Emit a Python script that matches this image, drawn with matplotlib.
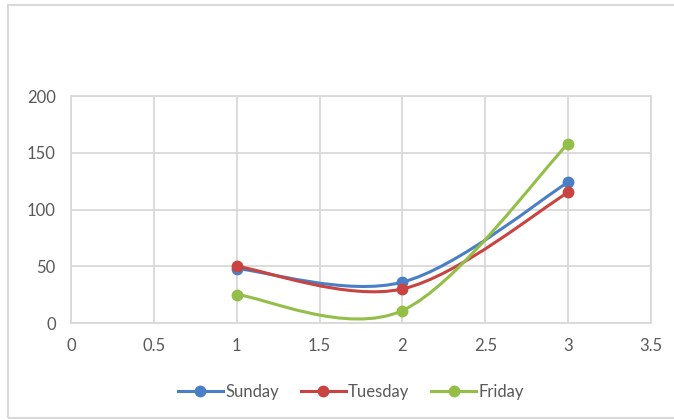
import matplotlib.pyplot as plt
from matplotlib.path import Path
from matplotlib.patches import PathPatch, Rectangle
from matplotlib.lines import Line2D
import numpy as np

plt.rcParams['font.family'] = ['Lato', 'DejaVu Sans']

x = [1, 2, 3]
sunday = [48, 36, 124]
tuesday = [50, 30, 115]
friday = [25, 11, 158]
names = ['Sunday', 'Tuesday', 'Friday']
colors = ['#4A7EC6', '#C94340', '#93BE48']


def smooth_path(xs, ys):
    # bezier segments through the points, like Excel's smoothed line
    p = np.column_stack([xs, ys]).astype(float)
    ext = np.vstack([p[0], p, p[-1]])
    verts = [p[0]]
    codes = [Path.MOVETO]
    for i in range(len(p) - 1):
        p0, p1, p2, p3 = ext[i], ext[i + 1], ext[i + 2], ext[i + 3]
        c1 = p1 + (p2 - p0) / 6
        c2 = p2 - (p3 - p1) / 6
        verts += [c1, c2, p2]
        codes += [Path.CURVE4] * 3
    return Path(verts, codes)


fig = plt.figure(figsize=(6.74, 4.2), dpi=100)
fig.patches.append(Rectangle((8 / 674, 2 / 420), 1.0, 413 / 420, transform=fig.transFigure,
                             fill=False, edgecolor='#d9d9d9', linewidth=1.5))
ax = fig.add_axes([71 / 674, 97 / 420, 580 / 674, 227 / 420])

for ys, name, c in zip([sunday, tuesday, friday], names, colors):
    ax.add_patch(PathPatch(smooth_path(x, ys), fill=False, edgecolor=c, linewidth=2.2, zorder=3))
    ax.plot(x, ys, 'o', color=c, markersize=7.5, zorder=4)

ax.set_xlim(0, 3.5)
ax.set_ylim(0, 200)
ax.set_xticks(np.arange(0, 3.6, 0.5))
ax.set_xticklabels(['0', '0.5', '1', '1.5', '2', '2.5', '3', '3.5'])
ax.set_yticks([0, 50, 100, 150, 200])
ax.grid(True, color='#d9d9d9', linewidth=1.3)
ax.set_axisbelow(True)
for s in ax.spines.values():
    s.set_color('#d9d9d9')
    s.set_linewidth(1.3)
ax.tick_params(length=0, labelsize=12, labelcolor='#595959')
ax.tick_params(axis='y', pad=11)
ax.tick_params(axis='x', pad=11)

handles = [Line2D([0], [0], color=c, linewidth=2.2, marker='o', markersize=7.5) for c in colors]
fig.legend(handles, names, loc='center', bbox_to_anchor=(351 / 674, 1 - 392 / 420), ncol=3,
           frameon=False, fontsize=12, labelcolor='#595959', handlelength=2.7,
           handletextpad=0.15, columnspacing=1.3)

fig.savefig('out.png', dpi=100)
